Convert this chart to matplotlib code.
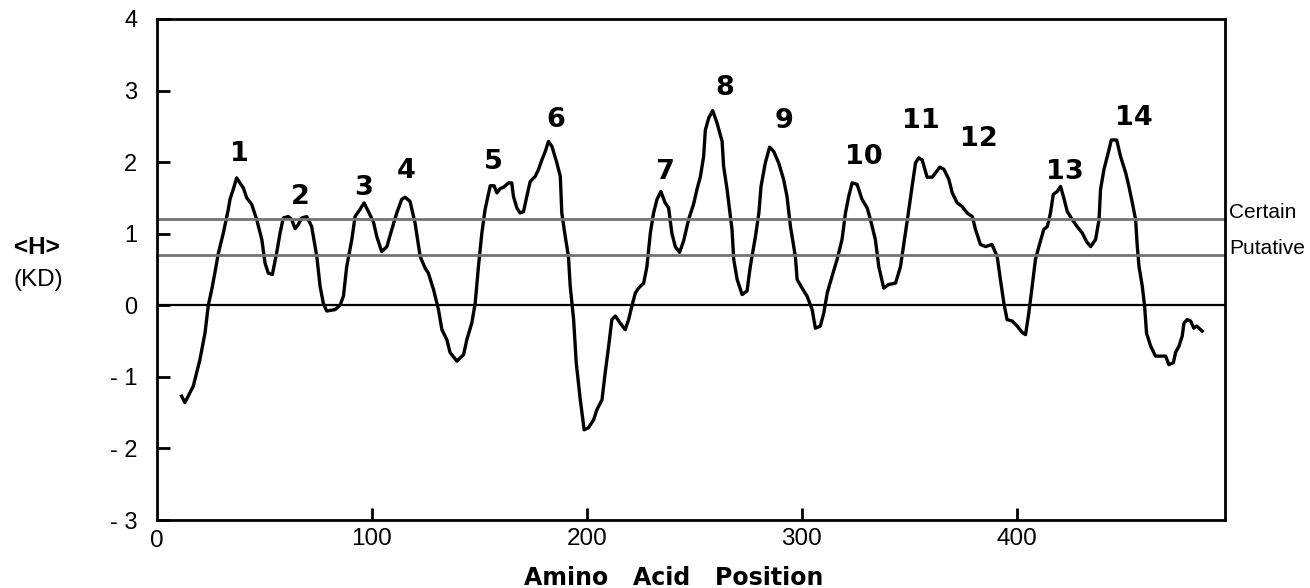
import matplotlib
matplotlib.use("Agg")
import matplotlib.pyplot as plt

# hydropathy trace (residue position, <H> in KD units)
position = [11.5, 13, 16.9, 20, 22.4, 23.9, 25.5, 27, 28.6, 30.9,
            33.2, 34, 35.5, 37.1, 38.6, 40.2, 41.8, 44.1, 46.4, 48.8,
            50.3, 51.8, 53.7, 55.7, 57.3, 58.8, 61.1, 62.7, 64.3, 65.8,
            67.4, 69.7, 72.0, 74.4, 75.9, 77.4, 79, 82.9, 85.2, 86.8,
            88.3, 90.7, 92.2, 94.5, 96.4, 98.4, 100.7, 102.3, 104.6, 107,
            109.3, 111.6, 113.9, 115.5, 117.8, 120.1, 122.5, 124.8, 126.3, 128.7,
            131, 132.6, 134.9, 136.4, 139.6, 142.7, 144.2, 146.5, 148.1, 149.6,
            151.2, 152.7, 155.1, 156.9, 158.2, 159.7, 161.3, 163.6, 165.1, 165.9,
            167.5, 169, 170.6, 172.1, 173.7, 176, 177.6, 179.1, 180.7, 182.2,
            183.8, 186.1, 187.7, 188.4, 190, 191.5, 192.3, 193.9, 195.1, 197,
            198.8, 200.8, 203.2, 204.7, 207.1, 208.6, 210.2, 211.7, 213.3, 215.6,
            217.9, 219.5, 221, 222.6, 224.1, 226.5, 228, 229.6, 231.1, 232.7,
            234.5, 236.5, 238.1, 239.6, 241.2, 243.2, 245.1, 247.4, 249.7, 251.3,
            252.9, 254.4, 255.2, 256.8, 258.6, 260.6, 263, 263.7, 265.3, 267.6,
            268.4, 270, 272.3, 274.6, 276.1, 278.5, 280.1, 281.1, 283.1, 285.1,
            287, 289.3, 291.6, 293.2, 294.8, 297.1, 297.9, 300.2, 302.5, 304.9,
            306.4, 308.7, 310.3, 311.9, 314.2, 316.5, 318.8, 320.4, 321.9, 323.5,
            325.8, 328.1, 330.5, 332, 334.3, 335.9, 338.2, 340.5, 343.7, 346,
            348.3, 349.9, 351.4, 353, 354.5, 356.1, 358.4, 360.8, 362.3, 364.3,
            366.2, 368.5, 370.1, 372.4, 374.7, 377, 379.4, 380.9, 383.2, 385.6,
            388.6, 391, 392.5, 394.1, 395.6, 398, 400.3, 402.6, 404.2, 405.7,
            407.3, 408.8, 410.4, 412.7, 414.3, 415.8, 417.1, 418.9, 420.5, 422,
            423.6, 425.9, 428.2, 430.6, 432.6, 434.5, 436.8, 438.4, 439.1, 440.7,
            443, 444.1, 446.6, 448.4, 450.8, 452.3, 453.9, 455.4, 456.2, 457,
            458.5, 459.6, 460.5, 462.4, 464.7, 467, 469.4, 470.9, 473, 474,
            475.6, 477.1, 477.9, 479.4, 481, 482.5, 483.8, 486.4]
hydropathy = [-1.27, -1.36, -1.13, -0.76, -0.38, 0.0, 0.22, 0.46, 0.73, 1.01,
              1.34, 1.48, 1.62, 1.78, 1.71, 1.64, 1.50, 1.41, 1.20, 0.92,
              0.59, 0.45, 0.43, 0.73, 1.01, 1.22, 1.24, 1.20, 1.07, 1.13,
              1.22, 1.24, 1.10, 0.68, 0.27, 0.03, -0.08, -0.06, 0.0, 0.13,
              0.54, 0.92, 1.24, 1.34, 1.43, 1.31, 1.17, 0.96, 0.75, 0.82,
              1.06, 1.29, 1.48, 1.51, 1.45, 1.15, 0.68, 0.52, 0.45, 0.22,
              -0.06, -0.34, -0.48, -0.66, -0.78, -0.69, -0.48, -0.25, 0.03, 0.54,
              1.01, 1.34, 1.67, 1.67, 1.57, 1.63, 1.65, 1.71, 1.71, 1.52,
              1.36, 1.29, 1.31, 1.52, 1.73, 1.80, 1.90, 2.03, 2.15, 2.29,
              2.22, 1.99, 1.80, 1.29, 0.96, 0.68, 0.27, -0.20, -0.80, -1.32,
              -1.74, -1.71, -1.60, -1.46, -1.32, -0.94, -0.57, -0.20, -0.15, -0.25,
              -0.34, -0.20, -0.01, 0.17, 0.24, 0.31, 0.54, 1.01, 1.29, 1.48,
              1.59, 1.43, 1.36, 1.01, 0.82, 0.74, 0.90, 1.20, 1.41, 1.62,
              1.80, 2.08, 2.45, 2.62, 2.72, 2.55, 2.29, 1.94, 1.62, 1.06,
              0.64, 0.36, 0.15, 0.20, 0.54, 0.96, 1.29, 1.66, 1.99, 2.21,
              2.15, 1.99, 1.76, 1.52, 1.10, 0.68, 0.36, 0.24, 0.13, -0.06,
              -0.32, -0.29, -0.11, 0.17, 0.41, 0.64, 0.92, 1.29, 1.52, 1.71,
              1.69, 1.48, 1.36, 1.20, 0.92, 0.54, 0.24, 0.29, 0.31, 0.54,
              1.01, 1.34, 1.66, 1.99, 2.06, 2.03, 1.79, 1.79, 1.85, 1.93,
              1.90, 1.76, 1.57, 1.43, 1.38, 1.29, 1.24, 1.06, 0.85, 0.82,
              0.85, 0.68, 0.36, 0.03, -0.20, -0.22, -0.29, -0.38, -0.41, -0.11,
              0.27, 0.64, 0.82, 1.06, 1.10, 1.29, 1.55, 1.59, 1.66, 1.50,
              1.31, 1.20, 1.10, 1.01, 0.89, 0.82, 0.92, 1.20, 1.62, 1.90,
              2.17, 2.31, 2.31, 2.08, 1.85, 1.66, 1.43, 1.20, 0.82, 0.54,
              0.27, -0.01, -0.39, -0.57, -0.71, -0.71, -0.71, -0.83, -0.80, -0.66,
              -0.57, -0.43, -0.25, -0.20, -0.22, -0.32, -0.29, -0.36]

# numbered segment labels (text, x, y)
seg_labels = ["1", "2", "3", "4", "5", "6", "7", "8", "9", "10", "11", "12", "13", "14"]
seg_x = [38.2, 66.6, 96, 116, 156.5, 185.8, 236, 264, 291.6, 328.9, 355.3, 382.3, 422.3, 454.5]
seg_y = [2.12, 1.52, 1.64, 1.88, 2.0, 2.59, 1.86, 3.04, 2.57, 2.07, 2.57, 2.32, 1.86, 2.62]

thresholds = [1.2, 0.7]
threshold_names = ["Certain", "Putative"]

x_ticks = [100, 200, 300, 400]
y_ticks = [-3, -2, -1, 0, 1, 2, 3, 4]
y_ticklabels = ["- 3", "- 2", "- 1", "0", "1", "2", "3", "4"]

fig = plt.figure(figsize=(13.1, 5.88), dpi=100)
ax = fig.add_axes([0.1198, 0.1156, 0.8153, 0.8521])

ax.plot(position, hydropathy, color="black", lw=2.4, solid_joinstyle="round")
ax.axhline(0, color="black", lw=1.6)
for t, name in zip(thresholds, threshold_names):
    ax.axhline(t, color="0.45", lw=2.0)
    ax.annotate(name, xy=(1.0, t), xycoords=("axes fraction", "data"),
                xytext=(3, 5), textcoords="offset points",
                ha="left", va="center", fontsize=15, family="Liberation Sans",
                annotation_clip=False)

for lab, sx, sy in zip(seg_labels, seg_x, seg_y):
    ax.text(sx, sy, lab, ha="center", va="center", fontsize=19.5,
            fontweight="bold", family="DejaVu Sans")

ax.set_xlim(0, 497)
ax.set_ylim(-3, 4)
ax.set_xticks(x_ticks)
ax.set_xticklabels([str(v) for v in x_ticks], family="Liberation Sans", fontsize=17.5)
ax.set_yticks(y_ticks)
ax.set_yticklabels(y_ticklabels, family="Liberation Sans", fontsize=17)
ax.tick_params(axis="both", direction="in", length=9, width=2)
ax.tick_params(axis="y", pad=14)
ax.tick_params(axis="x", pad=6)
for s in ax.spines.values():
    s.set_linewidth(2)

fig.text(0.5145, 1 - 578 / 588, "Amino   Acid   Position", ha="center", va="center",
         fontsize=17, fontweight="bold", family="DejaVu Sans")
fig.text(37 / 1310, 1 - 247 / 588, "<H>", ha="center", va="center",
         fontsize=17.5, fontweight="bold", family="Liberation Sans")
fig.text(38 / 1310, 1 - 280 / 588, "(KD)", ha="center", va="center",
         fontsize=17.5, family="Liberation Sans")

# "0" label at the origin corner, no tick mark there
fig.text(157 / 1310, 1 - 541 / 588, "0", ha="center", va="center",
         fontsize=17.5, family="Liberation Sans")

fig.savefig("out.png", dpi=100)
